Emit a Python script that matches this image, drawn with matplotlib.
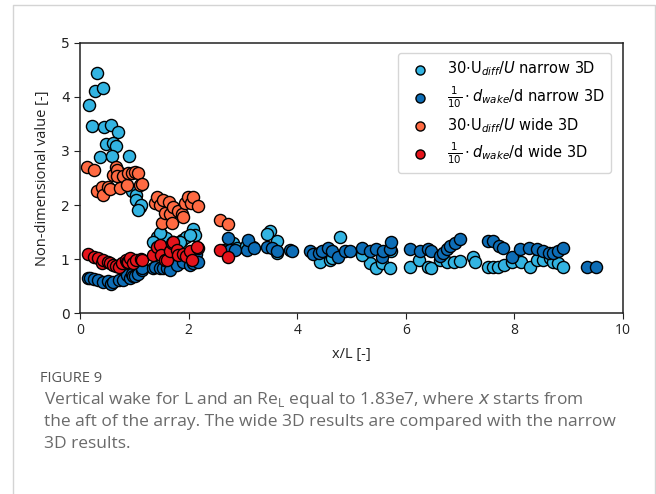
import matplotlib
matplotlib.use("Agg")
import matplotlib.pyplot as plt
from matplotlib.lines import Line2D

# ---- data ----
nu_x = [0.31, 0.28, 0.43, 0.17, 0.23, 0.45, 0.58, 0.70, 0.47, 0.61, 0.67, 0.37, 0.59, 0.90,
        0.74, 0.95, 1.03, 1.04, 1.10, 1.12, 1.06,
        1.41, 1.50, 1.58, 1.72, 1.87, 1.96, 2.08, 2.12, 1.47, 1.84, 2.03, 1.35, 1.90, 2.00,
        2.82, 3.18, 3.50, 3.45, 3.63, 3.63, 2.90, 3.05,
        4.78, 4.42, 4.60, 4.64,
        5.22, 5.34, 5.46, 5.56, 5.71, 5.72, 6.08, 6.25, 6.41, 6.47, 6.63, 6.75, 6.88, 7.00,
        7.24, 7.27, 7.52, 7.60, 7.70, 7.80, 7.95, 8.13, 8.28, 8.41, 8.53, 8.66, 8.72, 8.81, 8.90, 5.19]
nu_y = [4.45, 4.12, 4.16, 3.86, 3.47, 3.44, 3.49, 3.36, 3.13, 3.14, 3.09, 2.89, 2.91, 2.91,
        2.59, 2.25, 2.19, 2.09, 1.97, 2.00, 1.91,
        1.40, 1.46, 1.38, 1.32, 1.35, 1.40, 1.55, 1.44, 1.48, 1.32, 1.44, 1.32, 1.00, 0.93,
        1.29, 1.23, 1.52, 1.46, 1.34, 1.11, 1.20, 1.25,
        1.41, 0.95, 0.98, 1.02,
        1.09, 0.92, 0.83, 0.92, 0.83, 1.15, 0.85, 0.99, 0.85, 0.83, 0.98, 0.95, 0.95, 0.96,
        1.04, 0.95, 0.86, 0.85, 0.85, 0.89, 0.95, 0.94, 0.85, 0.98, 0.98, 1.01, 0.95, 0.92, 0.85, 1.08]

nd_x = [0.15, 0.18, 0.25, 0.34, 0.43, 0.52, 0.58, 0.61, 0.71, 0.80, 0.86, 0.92, 0.95, 0.98,
        1.01, 1.07, 1.14, 1.14,
        1.35, 1.38, 1.47, 1.53, 1.60, 1.66, 1.75, 1.78, 1.90, 2.03, 2.09, 2.14, 2.18,
        2.64, 2.73, 2.76, 2.86, 3.07, 3.10, 3.21, 3.44, 3.53, 3.62, 3.87, 3.90,
        4.24, 4.30, 4.41, 4.45, 4.57, 4.64, 4.76, 4.88,
        4.97, 5.19, 5.34, 5.46, 5.57, 5.58, 5.71, 5.73, 6.08, 6.26, 6.41, 6.47, 6.63, 6.69,
        6.75, 6.81, 6.91, 7.00, 7.52, 7.61, 7.71, 7.79, 7.95, 8.10, 8.26, 8.41, 8.53, 8.63,
        8.72, 8.81, 8.90, 9.33, 9.51]
nd_y = [0.64, 0.64, 0.63, 0.61, 0.58, 0.60, 0.54, 0.58, 0.61, 0.62, 0.70, 0.65, 0.73, 0.68,
        0.68, 0.73, 0.80, 0.83,
        0.83, 0.86, 0.83, 0.83, 0.83, 0.80, 0.98, 0.89, 0.95, 0.89, 0.93, 1.10, 0.95,
        1.17, 1.38, 1.17, 1.17, 1.17, 1.35, 1.20, 1.23, 1.20, 1.14, 1.17, 1.15,
        1.14, 1.10, 1.11, 1.14, 1.20, 1.14, 1.04, 1.14,
        1.14, 1.20, 1.14, 1.18, 1.03, 1.14, 1.18, 1.31, 1.18, 1.14, 1.18, 1.14, 1.05, 1.11,
        1.18, 1.24, 1.30, 1.37, 1.34, 1.34, 1.24, 1.20, 1.03, 1.18, 1.20, 1.18, 1.14, 1.12,
        1.12, 1.14, 1.20, 0.85, 0.85]

wu_x = [0.13, 0.25, 0.32, 0.40, 0.43, 0.52, 0.55, 0.61, 0.67, 0.69, 0.69, 0.74, 0.80, 0.86,
        0.89, 0.95, 1.01, 1.07, 1.10, 1.14,
        1.38, 1.41, 1.47, 1.53, 1.51, 1.57, 1.63, 1.66, 1.69, 1.72, 1.81, 1.87, 1.90, 1.93,
        1.99, 2.05, 2.08, 2.18, 2.57, 2.73]
wu_y = [2.71, 2.65, 2.25, 2.34, 2.19, 2.34, 2.29, 2.56, 2.71, 2.65, 2.53, 2.31, 2.53, 2.37,
        2.59, 2.59, 2.62, 2.59, 2.37, 2.39,
        2.03, 2.15, 2.00, 2.09, 1.66, 1.86, 2.06, 1.84, 1.66, 1.96, 1.88, 1.83, 1.77, 2.03,
        2.15, 2.03, 2.15, 1.98, 1.72, 1.65]

wd_x = [0.15, 0.25, 0.34, 0.40, 0.43, 0.52, 0.55, 0.61, 0.67, 0.71, 0.77, 0.84, 0.86, 0.89,
        0.92, 0.98, 1.04, 1.12, 1.14,
        1.35, 1.41, 1.47, 1.50, 1.57, 1.60, 1.66, 1.69, 1.72, 1.78, 1.81, 1.90, 1.96, 2.03,
        2.06, 2.18, 2.16, 2.58, 2.73]
wd_y = [1.10, 1.04, 1.01, 0.92, 0.98, 0.95, 0.92, 0.89, 0.87, 0.86, 0.92, 0.98, 0.95, 0.95,
        1.01, 0.93, 0.98, 1.00, 0.98,
        1.07, 1.23, 1.26, 1.07, 0.98, 0.98, 1.14, 1.29, 1.32, 1.17, 1.07, 1.10, 1.06, 1.14,
        0.98, 1.20, 1.23, 1.17, 1.03]

labels = [r'30$\cdot$U$_{diff}/U$ narrow 3D',
          r'$\frac{1}{10}\cdot d_{wake}$/d narrow 3D',
          r'30$\cdot$U$_{diff}/U$ wide 3D',
          r'$\frac{1}{10}\cdot d_{wake}$/d wide 3D']
colors = ['#33b4e2', '#0d6db6', '#ff6a42', '#e5141b']

x_ticks = [0, 2, 4, 6, 8, 10]
y_ticks = [0, 1, 2, 3, 4, 5]

fig = plt.figure(figsize=(6.56, 4.94), dpi=100)
fig.patch.set_facecolor('white')

# page frame
W, H = 656, 494
frame = Line2D([13 / W, 13 / W, 655 / W, 655 / W], [0, 1 - 5 / H, 1 - 5 / H, 0],
               transform=fig.transFigure, color='#d4d4d4', lw=1.0)
fig.add_artist(frame)

ax = fig.add_axes([80 / W, 1 - 313 / H, (623 - 80) / W, (313 - 43) / H])
series = [(nu_x, nu_y), (nd_x, nd_y), (wu_x, wu_y), (wd_x, wd_y)]
for (xs, ys), c, lab in zip(series, colors, labels):
    ax.scatter(xs, ys, s=76, c=c, edgecolors='black', linewidths=1.0, label=lab)

ax.set_xlim(0, 10)
ax.set_ylim(0, 5)
ax.set_xticks(x_ticks)
ax.set_yticks(y_ticks)
ax.set_xticklabels([str(t) for t in x_ticks], fontfamily='Open Sans', fontsize=10)
ax.set_yticklabels([str(t) for t in y_ticks], fontfamily='DejaVu Sans', fontsize=10)
ax.tick_params(colors='#222222', length=4)
for sp in ax.spines.values():
    sp.set_linewidth(1.1)
    sp.set_color('#222222')
ax.set_xlabel('x/L [-]', fontfamily='Open Sans', fontsize=10.5, color='#222222', labelpad=6)
ax.set_ylabel('Non-dimensional value [-]', fontfamily='Open Sans', fontsize=10.5,
              color='#222222', labelpad=8)

leg = ax.legend(loc='upper right', fontsize=10.5, labelspacing=0.42, handletextpad=0.9,
                borderpad=0.45, framealpha=0.8, edgecolor='#cccccc', scatterpoints=1,
                markerscale=0.75, bbox_to_anchor=(0.992, 0.99))

fig.text(40 / W, 1 - 378 / H, 'FIGURE 9', fontfamily='Open Sans', fontsize=10.5,
         color='#555555', va='center', ha='left')
cap = ['Vertical wake for L and an Re$_\\mathregular{L}$ equal to 1.83e7, where $x$ starts from',
       'the aft of the array. The wide 3D results are compared with the narrow',
       '3D results.']
for i, line in enumerate(cap):
    fig.text(44 / W, 1 - (400 + 22 * i) / H, line, fontfamily='Open Sans', fontsize=12.5,
             color='#6a6a6a', va='center', ha='left')

fig.savefig('out.png', dpi=100)
